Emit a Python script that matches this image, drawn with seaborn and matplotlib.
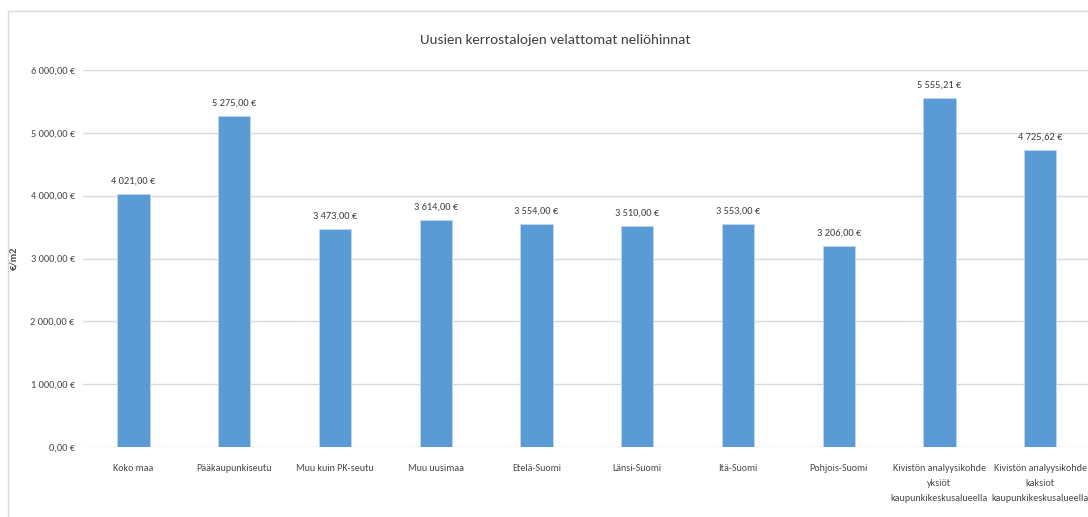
import matplotlib
matplotlib.use("Agg")
import matplotlib.pyplot as plt
from matplotlib.patches import Rectangle
from matplotlib.ticker import FuncFormatter
import seaborn as sns
import pandas as pd

categories = [
    "Koko maa",
    "Pääkaupunkiseutu",
    "Muu kuin PK-seutu",
    "Muu uusimaa",
    "Etelä-Suomi",
    "Länsi-Suomi",
    "Itä-Suomi",
    "Pohjois-Suomi",
    "Kivistön analyysikohde\nyksiöt\nkaupunkikeskusalueella",
    "Kivistön analyysikohde\nkaksiot\nkaupunkikeskusalueella",
]
prices = [4021.00, 5275.00, 3473.00, 3614.00, 3554.00, 3510.00, 3553.00, 3206.00, 5555.21, 4725.62]
yticks = [0, 1000, 2000, 3000, 4000, 5000, 6000]

title = "Uusien kerrostalojen velattomat neliöhinnat"
ylabel = "€/m2"

sns.set_theme(style="white")
plt.rcParams["font.family"] = ["Liberation Sans Narrow", "Carlito", "Liberation Sans", "DejaVu Sans"]

text_color = "#4a4a4a"
bar_color = "#5b9bd5"


def euro(v):
    s = f"{v:,.2f}"
    s = s.replace(",", " ").replace(".", ",")
    return s + " €"


df = pd.DataFrame({"alue": categories, "hinta": prices})

fig = plt.figure(figsize=(10.88, 5.17), dpi=100)
fig.patch.set_facecolor("white")

# outer chart frame
fig.add_artist(Rectangle((8 / 1088, -0.05), 1.2, (517 - 11) / 517 + 0.05,
                         transform=fig.transFigure, fill=False,
                         edgecolor="#d9d9d9", linewidth=1.0))

ax = fig.add_axes([83 / 1088, 70 / 517, (1090.6 - 83) / 1088, (447 - 70) / 517])
sns.barplot(data=df, x="alue", y="hinta", color=bar_color, width=0.32,
            saturation=1, ax=ax, edgecolor="#bdd7ee", linewidth=0.6)

ax.set_ylim(0, 6000)
ax.set_xlim(-0.5, len(categories) - 0.5)
ax.set_yticks(yticks)
ax.yaxis.set_major_formatter(FuncFormatter(lambda v, p: euro(v)))
ax.grid(axis="y", color="#d9d9d9", linewidth=1.0)
ax.set_axisbelow(True)
for s in ax.spines.values():
    s.set_visible(False)

ax.tick_params(axis="y", labelsize=7.5, colors=text_color, length=0, pad=6)
ax.tick_params(axis="x", labelsize=7.2, colors=text_color, length=0, pad=12)
for lbl in ax.get_xticklabels():
    lbl.set_linespacing(1.9)
    lbl.set_verticalalignment("top")

ax.set_xlabel("")
ax.set_ylabel(ylabel, fontsize=7.5, color=text_color, fontweight="bold")
ax.yaxis.set_label_coords((18 - 83) / 1007.6, 0.5)

ax.bar_label(ax.containers[0], labels=[euro(v) for v in prices], padding=6,
             fontsize=7.5, color="#404040", clip_on=False)

fig.text(555 / 1088, 1 - 40 / 517, title, ha="center", va="center",
         fontsize=10.8, color="#404040")

fig.savefig("out.png", dpi=100, facecolor="white")
